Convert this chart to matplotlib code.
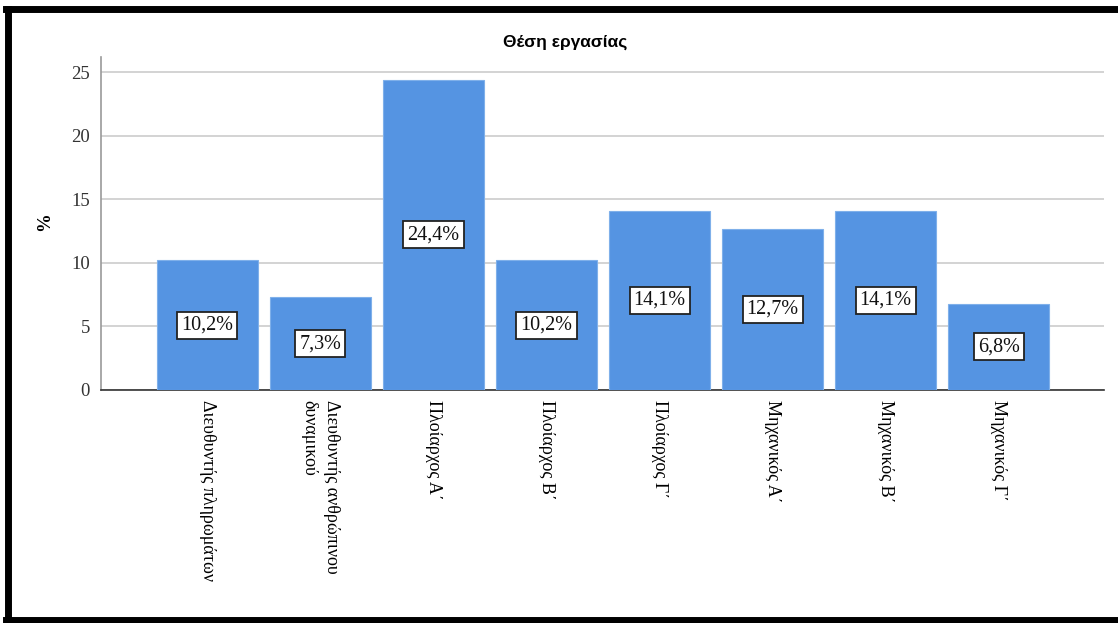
import matplotlib.pyplot as plt
from matplotlib.lines import Line2D

# data
categories = [
    "Διευθυντής πληρωμάτων",
    "Διευθυντής ανθρώπινου\nδυναμικού",
    "Πλοίαρχος Α΄",
    "Πλοίαρχος Β΄",
    "Πλοίαρχος Γ΄",
    "Μηχανικός Α΄",
    "Μηχανικός Β΄",
    "Μηχανικός Γ΄",
]
percent = [10.2, 7.3, 24.4, 10.2, 14.1, 12.7, 14.1, 6.8]
yticks = [0, 5, 10, 15, 20, 25]

bar_color = "#5594e2"
serif = ["Liberation Serif", "DejaVu Serif"]

fig = plt.figure(figsize=(11.18, 6.23), dpi=100)
ax = fig.add_axes([0.0903, 0.374, 0.8972, 0.5345])

x = list(range(len(categories)))
ax.bar(x, percent, width=0.894, color=bar_color, edgecolor="#7fb0ea",
       linewidth=0.8, zorder=3)

# value labels in boxes at half height
for xi, v in zip(x, percent):
    ax.text(xi, v / 2, f"{v:.1f}%".replace(".", ","), ha="center", va="center",
            family=serif, fontsize=14.5, color="#111111", zorder=4,
            bbox=dict(boxstyle="square,pad=0.2", fc="white", ec="#222222", lw=1.3))

ax.set_xlim(-0.94, 7.93)
ax.set_ylim(0, 26.2)
ax.set_yticks(yticks)
ax.set_yticklabels([str(t) for t in yticks], family=serif, fontsize=13.5,
                   color="#333333")
ax.set_xticks(x)
ax.set_xticklabels(categories, rotation=270, family=serif, fontsize=13,
                   ha="center", va="top", multialignment="left", linespacing=1.4)
ax.tick_params(axis="both", length=0)
ax.tick_params(axis="x", pad=7)
ax.tick_params(axis="y", pad=8)

ax.grid(axis="y", color="#d0d0d0", linewidth=1.3, zorder=0)
ax.set_axisbelow(True)
for s in ["top", "right"]:
    ax.spines[s].set_visible(False)
ax.spines["left"].set_color("#9a9a9a")
ax.spines["left"].set_linewidth(1.2)
ax.spines["bottom"].set_color("#333333")
ax.spines["bottom"].set_linewidth(1.2)

fig.text(0.5055, 1 - 42 / 623, "Θέση εργασίας", ha="center", va="center",
         family="Liberation Sans", fontweight="bold", fontsize=12.5)
fig.text(45 / 1118, 1 - 222 / 623, "%", rotation=90, ha="center", va="center",
         family=serif, fontweight="bold", fontsize=13.5)

# outer black frame (left, top, bottom)
lw = 5
fig.add_artist(Line2D([8 / 1118, 8 / 1118], [1 - 9 / 623, 1 - 620 / 623],
                      color="black", lw=lw, transform=fig.transFigure))
fig.add_artist(Line2D([6 / 1118, 1.0], [1 - 9 / 623, 1 - 9 / 623],
                      color="black", lw=lw, transform=fig.transFigure))
fig.add_artist(Line2D([6 / 1118, 1.0], [1 - 620 / 623, 1 - 620 / 623],
                      color="black", lw=lw, transform=fig.transFigure))

fig.savefig("out.png", dpi=100)
